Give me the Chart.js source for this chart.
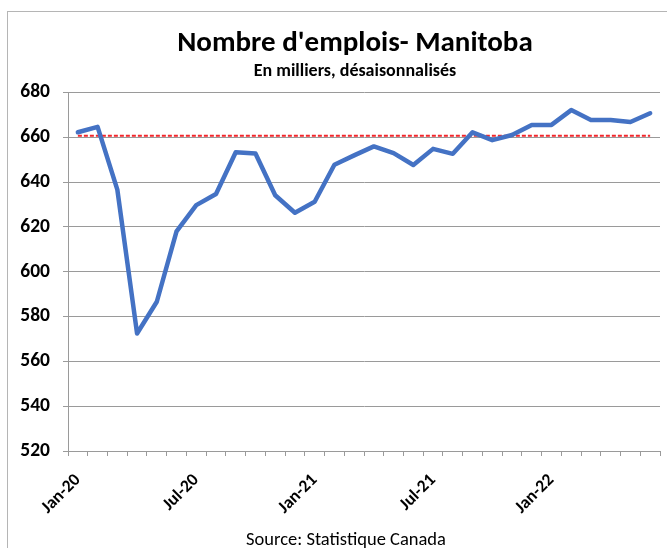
<!DOCTYPE html>
<html lang="fr">
<head>
<meta charset="utf-8">
<script src="https://cdn.jsdelivr.net/npm/chart.js@4/dist/chart.umd.min.js"></script>
<style>
  html, body { margin: 0; padding: 0; background: #fff; overflow: hidden; }
  body { width: 667px; height: 548px; position: relative; }
  #cadre {
    position: absolute; left: 7px; top: 11px;
    width: 694px; height: 558px;
    border: 1px solid #b5b5b5;
  }
  #source {
    position: absolute; left: 0; width: 692px; top: 529px;
    text-align: center; font: 18.5px Carlito, Calibri, Lato, sans-serif;
    line-height: 20px; color: #000;
  }
</style>
</head>
<body>
<div id="cadre"><canvas id="graphique" width="694" height="558"></canvas></div>
<div id="source">Source: Statistique Canada</div>
<script>
// Mois (Jan-20 a Jun-22)
const mois = [
  'Jan-20', 'Feb-20', 'Mar-20', 'Apr-20', 'May-20', 'Jun-20',
  'Jul-20', 'Aug-20', 'Sep-20', 'Oct-20', 'Nov-20', 'Dec-20',
  'Jan-21', 'Feb-21', 'Mar-21', 'Apr-21', 'May-21', 'Jun-21',
  'Jul-21', 'Aug-21', 'Sep-21', 'Oct-21', 'Nov-21', 'Dec-21',
  'Jan-22', 'Feb-22', 'Mar-22', 'Apr-22', 'May-22', 'Jun-22'
];

// Emplois, en milliers, desaisonnalises
const emplois = [
  662.2, 664.6, 636.6, 572.4, 586.6, 618.0,
  629.7, 634.7, 653.3, 652.7, 634.1, 626.3,
  631.2, 647.7, 651.9, 655.9, 652.9, 647.6,
  654.8, 652.6, 662.2, 658.7, 661.0, 665.5,
  665.5, 672.1, 667.7, 667.7, 666.8, 670.7
];

// Niveau de reference (ligne pointillee rouge)
const niveauReference = [
  660.7, 660.7, 660.7, 660.7, 660.7, 660.7,
  660.7, 660.7, 660.7, 660.7, 660.7, 660.7,
  660.7, 660.7, 660.7, 660.7, 660.7, 660.7,
  660.7, 660.7, 660.7, 660.7, 660.7, 660.7,
  660.7, 660.7, 660.7, 660.7, 660.7, 660.7
];

// Etiquettes affichees sur l'axe horizontal
const etiquettesX = ['Jan-20', 'Jul-20', 'Jan-21', 'Jul-21', 'Jan-22'];

// Graduations de l'axe vertical
const axeYMin = 520;
const axeYMax = 680;
const axeYPas = 20;

const police = 'Carlito, Calibri, Lato, sans-serif';

new Chart(document.getElementById('graphique').getContext('2d'), {
  type: 'line',
  data: {
    labels: mois,
    datasets: [{
      label: 'Emplois',
      data: emplois,
      borderColor: '#4472C4',
      borderWidth: 4.5,
      borderJoinStyle: 'round',
      borderCapStyle: 'round',
      pointRadius: 0,
      tension: 0,
      order: 1
    }, {
      label: 'Reference',
      data: niveauReference,
      borderColor: '#F2262B',
      borderWidth: 2,
      borderDash: [4, 2],
      pointRadius: 0,
      tension: 0,
      order: 2
    }]
  },
  options: {
    responsive: false,
    animation: false,
    layout: { padding: { left: 0, right: 0, top: 0, bottom: 49 } },
    plugins: {
      legend: { display: false },
      tooltip: { enabled: false },
      title: {
        display: true,
        text: "Nombre d'emplois- Manitoba",
        color: '#000',
        font: { family: police, size: 29, weight: 'bold', lineHeight: 1.2 },
        padding: { top: 14, bottom: 0 }
      },
      subtitle: {
        display: true,
        text: 'En milliers, désaisonnalisés',
        color: '#000',
        font: { family: police, size: 18, weight: 'bold', lineHeight: 1.2 },
        padding: { top: 0, bottom: 10 }
      }
    },
    scales: {
      x: {
        offset: true,
        afterFit: (scale) => { scale.height = 70; },
        grid: {
          offset: true,
          drawOnChartArea: false,
          drawTicks: true,
          tickLength: 5,
          color: '#9a9a9a'
        },
        border: { color: '#9a9a9a', width: 1 },
        ticks: {
          autoSkip: false,
          minRotation: 45,
          maxRotation: 45,
          padding: 14,
          color: '#000',
          font: { family: police, size: 17.5, weight: 'bold' },
          callback: function (value) {
            const lab = this.getLabelForValue(value);
            return etiquettesX.includes(lab) ? lab : '';
          }
        }
      },
      y: {
        min: axeYMin,
        max: axeYMax,
        afterFit: (scale) => { scale.width = 60; },
        grid: {
          color: '#9a9a9a',
          lineWidth: 1,
          drawTicks: true,
          tickLength: 5
        },
        border: { color: '#9a9a9a', width: 1 },
        ticks: {
          stepSize: axeYPas,
          padding: 13,
          color: '#000',
          font: { family: police, size: 19.5, weight: 'bold' }
        }
      },
      // marge droite du cadre (axe vide, sans graduations)
      marge: {
        type: 'linear',
        position: 'right',
        min: axeYMin,
        max: axeYMax,
        afterFit: (scale) => { scale.width = 42; },
        grid: { display: false },
        border: { display: false },
        ticks: { display: false }
      }
    }
  }
});
</script>
</body>
</html>
